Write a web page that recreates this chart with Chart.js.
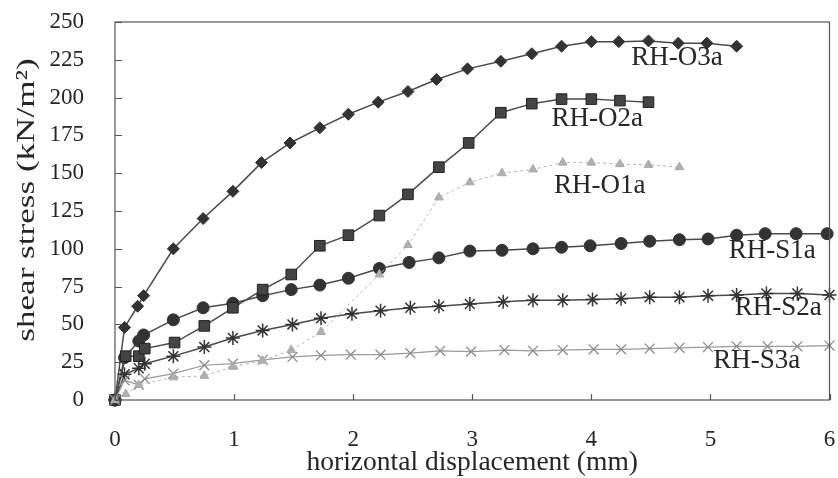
<!DOCTYPE html>
<html>
<head>
<meta charset="utf-8">
<script src="https://cdn.jsdelivr.net/npm/chart.js@4.4.0/dist/chart.umd.min.js"></script>
<style>
  html, body { margin: 0; padding: 0; background: #fff; }
</style>
</head>
<body>
<canvas id="shearChart" width="838" height="478"></canvas>
<script>
// series names, in drawing order
const seriesNames = ['RH-O3a', 'RH-O2a', 'RH-O1a', 'RH-S1a', 'RH-S2a', 'RH-S3a'];

// horizontal displacement (mm) / shear stress (kN/m2)
const o3aX = [0, 0.08, 0.19, 0.24, 0.49, 0.74, 0.99, 1.23, 1.47, 1.72, 1.96, 2.21, 2.46, 2.70, 2.96, 3.24, 3.50, 3.75, 4.00, 4.23, 4.48, 4.73, 4.97, 5.22];
const o3aY = [0, 48, 62, 69, 100, 120, 138, 157, 170, 180, 189, 197, 204, 212, 219, 224, 229, 234, 237, 237, 237.5, 236, 236, 234];

const o2aX = [0, 0.09, 0.20, 0.25, 0.50, 0.75, 0.99, 1.24, 1.48, 1.72, 1.96, 2.22, 2.46, 2.72, 2.97, 3.24, 3.50, 3.75, 4.00, 4.24, 4.48];
const o2aY = [0, 29, 29, 34, 38, 49, 61, 73, 83, 102, 109, 122, 136, 154, 170, 190, 196, 199, 199, 198, 197];

const o1aX = [0, 0.09, 0.20, 0.49, 0.75, 0.99, 1.24, 1.48, 1.73, 2.22, 2.46, 2.72, 2.98, 3.25, 3.51, 3.76, 4.00, 4.24, 4.48, 4.74];
const o1aY = [0, 4, 10, 15, 16, 22, 26, 33, 45, 83, 102.5, 134, 144, 150, 152.5, 157, 157, 156, 155.5, 154];

const s1aX = [0, 0.08, 0.20, 0.24, 0.49, 0.74, 0.99, 1.24, 1.48, 1.72, 1.96, 2.22, 2.47, 2.72, 2.98, 3.25, 3.51, 3.75, 3.99, 4.25, 4.49, 4.74, 4.98, 5.22, 5.46, 5.72, 5.98];
const s1aY = [0, 28, 39, 43, 53, 61, 64, 69, 73, 76, 80.5, 87, 91, 94, 98.5, 99, 100, 101, 102, 103.5, 105, 106, 106.5, 109, 110, 110, 110];

const s2aX = [0, 0.08, 0.20, 0.25, 0.49, 0.75, 0.99, 1.24, 1.49, 1.73, 1.99, 2.23, 2.48, 2.72, 2.98, 3.26, 3.51, 3.76, 4.01, 4.25, 4.49, 4.74, 4.98, 5.22, 5.47, 5.73, 6.00];
const s2aY = [0, 17, 21, 24, 29, 35, 41, 46, 50, 54, 57, 59, 61, 62, 63.5, 65, 66, 66, 66.5, 67, 68, 68, 69, 69.5, 70.5, 70.5, 69.5];

const s3aX = [0, 0.08, 0.20, 0.25, 0.49, 0.75, 0.99, 1.24, 1.49, 1.73, 1.98, 2.23, 2.48, 2.73, 2.99, 3.27, 3.51, 3.76, 4.02, 4.25, 4.49, 4.74, 4.98, 5.22, 5.48, 5.73, 6.00];
const s3aY = [0, 13, 10, 14, 17.5, 23, 24, 26.5, 28.5, 29.5, 30, 30, 31, 32.5, 32, 33, 32.5, 33, 33.5, 33.5, 34, 34.5, 35, 35.5, 35.5, 35.5, 36];

// axis ticks
const xTicks = [0, 1, 2, 3, 4, 5, 6];
const yTicks = [0, 25, 50, 75, 100, 125, 150, 175, 200, 225, 250];

const yTitle = 'shear stress (kN/m²)';

function pairs(xs, ys) {
  return xs.map(function(x, i) { return { x: x, y: ys[i] }; });
}

const serif = "'Liberation Serif', 'Times New Roman', serif";
const ink = '#262626';

// inward tick marks + plot frame, like the spreadsheet original
const framePlugin = {
  id: 'frame',
  afterDatasetsDraw(chart) {
    const { ctx, chartArea: a, scales } = chart;
    ctx.save();
    ctx.strokeStyle = '#555';
    ctx.lineWidth = 1.2;
    ctx.strokeRect(a.left, a.top, a.right - a.left, a.bottom - a.top);
    ctx.beginPath();
    yTicks.forEach(function(v) {
      const py = Math.round(scales.y.getPixelForValue(v)) + 0.5;
      ctx.moveTo(a.left, py);
      ctx.lineTo(a.left + 7, py);
    });
    xTicks.forEach(function(v) {
      const px = Math.round(scales.x.getPixelForValue(v)) + 0.5;
      ctx.moveTo(px, a.bottom);
      ctx.lineTo(px, a.bottom - 6);
    });
    ctx.stroke();
    ctx.restore();
  }
};

// series names next to the curves (anchor in data units) and the
// y title, which is set wider in the scan than the other text
const textPlugin = {
  id: 'seriesLabels',
  afterDraw(chart, args, opts) {
    const { ctx, scales, chartArea: a } = chart;
    ctx.save();
    ctx.font = opts.font;
    ctx.fillStyle = ink;
    ctx.textAlign = 'center';
    ctx.textBaseline = 'middle';
    opts.anchors.forEach(function(p, i) {
      ctx.fillText(seriesNames[i], scales.x.getPixelForValue(p[0]), scales.y.getPixelForValue(p[1]));
    });
    ctx.translate(27, (a.top + a.bottom) / 2 - 11);
    ctx.rotate(-Math.PI / 2);
    ctx.scale(1.35, 1);
    ctx.font = opts.titleFont;
    ctx.fillText(yTitle, 0, 0);
    ctx.restore();
  }
};

const dark = '#333';
const lineDark = '#4a4a4a';

function noOverflow(scale) {
  scale.paddingTop = 0;
  scale.paddingBottom = 0;
  scale.paddingLeft = 0;
  scale.paddingRight = 0;
}

const ctx = document.getElementById('shearChart').getContext('2d');
const chart = new Chart(ctx, {
  type: 'line',
  data: {
    datasets: [
      {
        label: seriesNames[2],
        data: pairs(o1aX, o1aY),
        borderColor: '#b5b5b5',
        borderWidth: 1,
        borderDash: [3, 3],
        pointStyle: 'triangle',
        pointRadius: 5,
        pointBackgroundColor: '#b0b0b0',
        pointBorderColor: '#a8a8a8',
        pointBorderWidth: 1
      },
      {
        label: seriesNames[5],
        data: pairs(s3aX, s3aY),
        borderColor: '#9a9a9a',
        borderWidth: 1.2,
        pointStyle: 'crossRot',
        pointRadius: 7,
        pointBorderColor: '#8c8c8c',
        pointBorderWidth: 1.3
      },
      {
        label: seriesNames[4],
        data: pairs(s2aX, s2aY),
        borderColor: lineDark,
        borderWidth: 1.5,
        pointStyle: 'star',
        pointRadius: 7,
        pointBorderColor: dark,
        pointBorderWidth: 1.5
      },
      {
        label: seriesNames[1],
        data: pairs(o2aX, o2aY),
        borderColor: lineDark,
        borderWidth: 1.5,
        pointStyle: 'rect',
        pointRadius: 7.5,
        pointBackgroundColor: '#444',
        pointBorderColor: '#222',
        pointBorderWidth: 1
      },
      {
        label: seriesNames[3],
        data: pairs(s1aX, s1aY),
        borderColor: lineDark,
        borderWidth: 1.5,
        pointStyle: 'circle',
        pointRadius: 6,
        pointBackgroundColor: dark,
        pointBorderColor: dark,
        pointBorderWidth: 1
      },
      {
        label: seriesNames[0],
        data: pairs(o3aX, o3aY),
        borderColor: lineDark,
        borderWidth: 1.5,
        pointStyle: 'rectRot',
        pointRadius: 6,
        pointBackgroundColor: dark,
        pointBorderColor: dark,
        pointBorderWidth: 1
      }
    ]
  },
  options: {
    responsive: false,
    animation: false,
    devicePixelRatio: 1,
    clip: false,
    layout: { padding: { top: 22, right: 8, left: 0, bottom: 0 } },
    elements: { line: { tension: 0, fill: false } },
    plugins: {
      legend: { display: false },
      tooltip: { enabled: false },
      seriesLabels: {
        font: "27px " + serif,
        titleFont: "26px " + serif,
        anchors: [[4.72, 226], [4.05, 186], [4.07, 141.5], [5.52, 98.5], [5.57, 61], [5.39, 25.8]]
      }
    },
    scales: {
      x: {
        type: 'linear',
        min: 0,
        max: 6,
        afterFit: function(scale) { scale.height = 78; noOverflow(scale); },
        afterBuildTicks: function(scale) { scale.ticks = xTicks.map(function(v) { return { value: v }; }); },
        grid: { display: false, drawTicks: false },
        border: { display: false },
        ticks: { padding: 26, color: ink, font: { family: serif, size: 23 } },
        title: {
          display: true,
          text: 'horizontal displacement (mm)',
          color: ink,
          font: { family: serif, size: 27.5, lineHeight: 1 },
          padding: { top: 0, bottom: 1 }
        }
      },
      y: {
        min: 0,
        max: 250,
        afterFit: function(scale) { scale.width = 115; noOverflow(scale); },
        afterBuildTicks: function(scale) { scale.ticks = yTicks.map(function(v) { return { value: v }; }); },
        grid: { display: false, drawTicks: false },
        border: { display: false },
        ticks: { padding: 31, color: ink, font: { family: serif, size: 23 } },
        title: { display: false }
      }
    }
  },
  plugins: [framePlugin, textPlugin]
});
</script>
</body>
</html>
